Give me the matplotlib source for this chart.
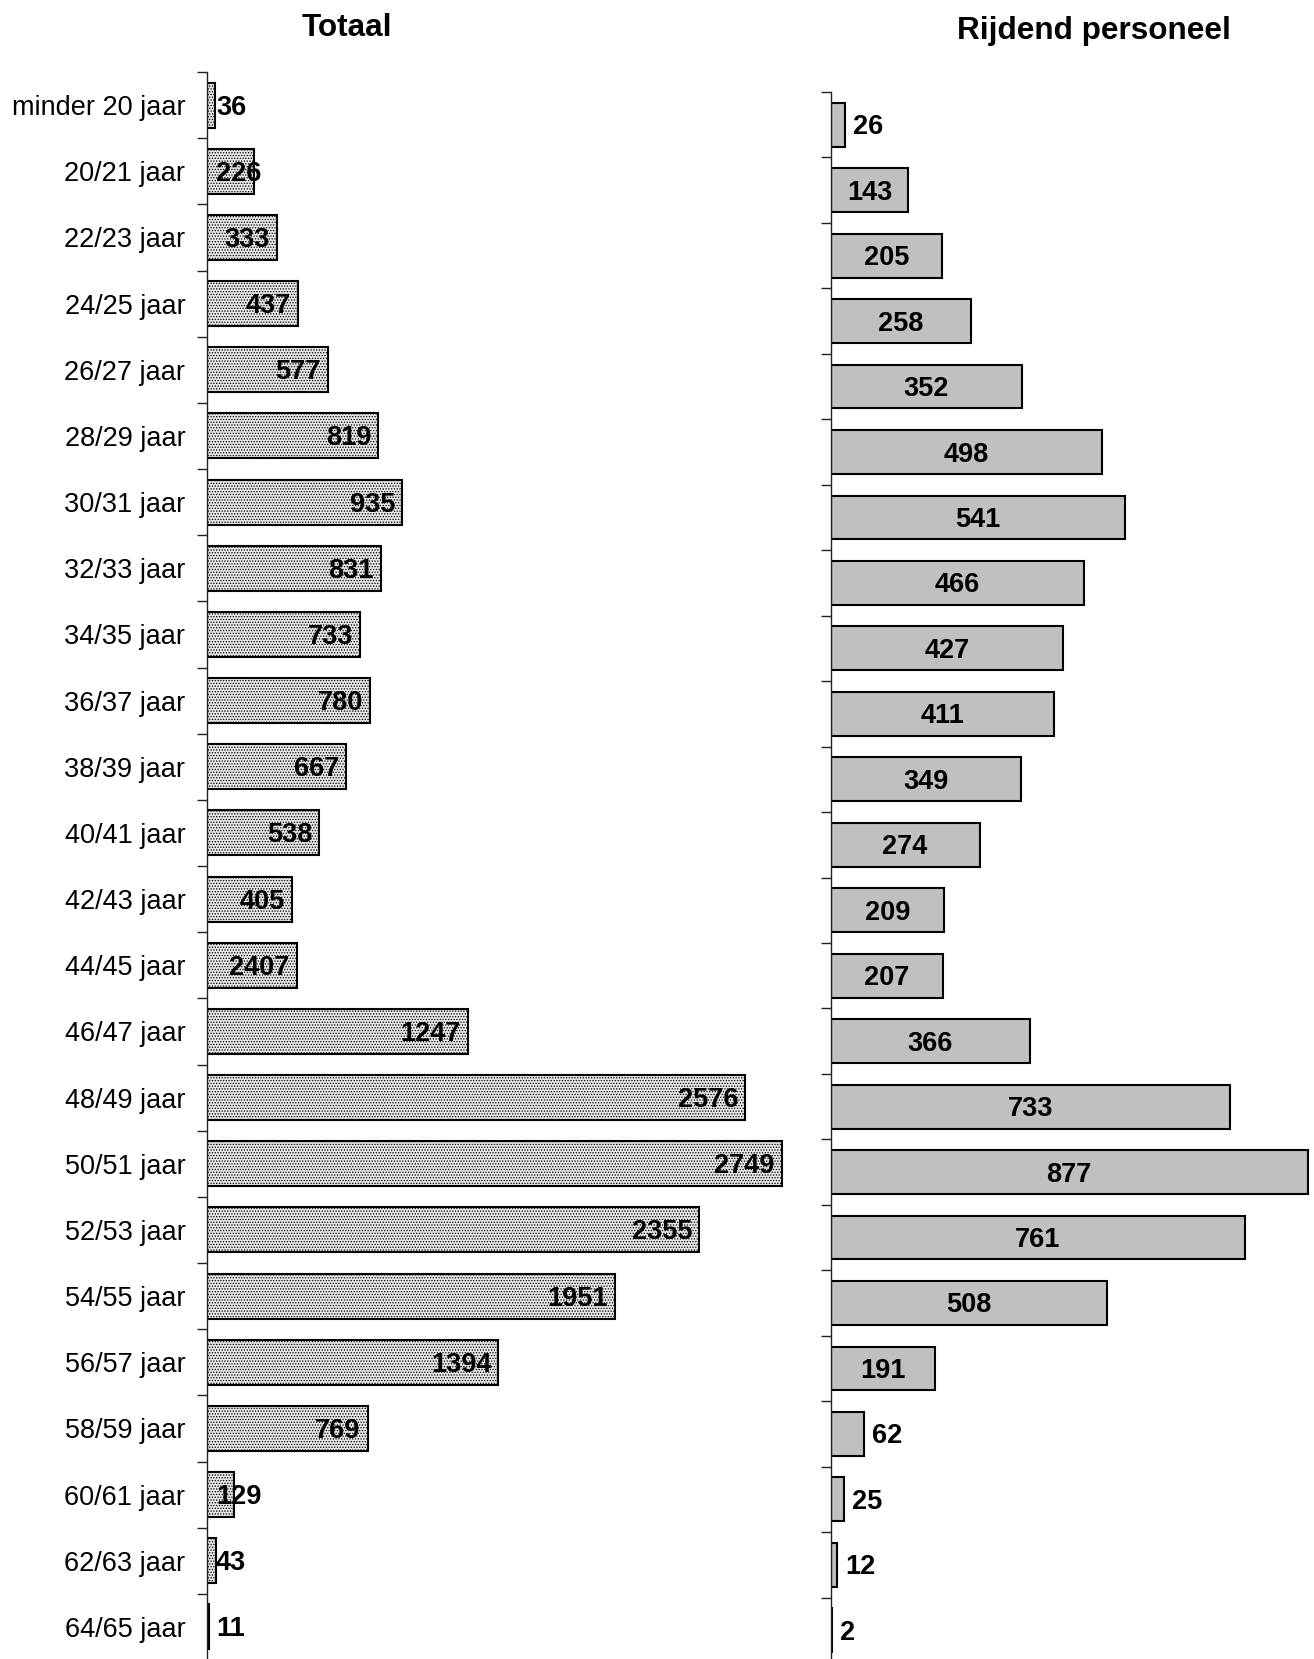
import matplotlib
matplotlib.use("Agg")
import matplotlib.pyplot as plt
import matplotlib.transforms as mtransforms
import numpy as np

plt.rcParams['font.family'] = ['Liberation Sans', 'DejaVu Sans']
plt.rcParams['hatch.color'] = '#444444'
plt.rcParams['hatch.linewidth'] = 0.6

categories = ['minder 20 jaar', '20/21 jaar', '22/23 jaar', '24/25 jaar', '26/27 jaar',
              '28/29 jaar', '30/31 jaar', '32/33 jaar', '34/35 jaar', '36/37 jaar',
              '38/39 jaar', '40/41 jaar', '42/43 jaar', '44/45 jaar', '46/47 jaar',
              '48/49 jaar', '50/51 jaar', '52/53 jaar', '54/55 jaar', '56/57 jaar',
              '58/59 jaar', '60/61 jaar', '62/63 jaar', '64/65 jaar']

# bar lengths as drawn in the original (44/45 bar is short, its label reads 2407)
totaal = [36, 226, 333, 437, 577, 819, 935, 831, 733, 780, 667, 538, 405, 430,
          1247, 2576, 2749, 2355, 1951, 1394, 769, 129, 43, 11]
totaal_labels = ['36', '226', '333', '437', '577', '819', '935', '831', '733', '780',
                 '667', '538', '405', '2407', '1247', '2576', '2749', '2355', '1951',
                 '1394', '769', '129', '43', '11']

rijdend = [26, 143, 205, 258, 352, 498, 541, 466, 427, 411, 349, 274, 209, 207,
           366, 733, 877, 761, 508, 191, 62, 25, 12, 2]

W, H = 1314, 1659
fig = plt.figure(figsize=(W / 100, H / 100), dpi=100)

def px_axes(x0, x1, ytop, ybot):
    return fig.add_axes([x0 / W, (H - ybot) / H, (x1 - x0) / W, (ybot - ytop) / H])

ax1 = px_axes(207, 207 + 2800 * 0.209, 72, 1660)
ax2 = px_axes(830.5, 830.5 + 880 * 0.5446, 92, 1663)

n = len(categories)
ypos = np.arange(n)

for ax in (ax1, ax2):
    ax.set_ylim(n - 0.5, -0.5)
    for s in ('top', 'right', 'bottom'):
        ax.spines[s].set_visible(False)
    ax.spines['left'].set_linewidth(1.0)
    ax.spines['left'].set_color('#222222')
    ax.set_xticks([])
    ax.set_yticks(np.arange(n + 1) - 0.5, minor=True)
    ax.tick_params(axis='y', which='minor', length=7, width=1.0, color='#222222')
    ax.tick_params(axis='y', which='major', length=0)

ax1.set_xlim(0, 2800)
ax2.set_xlim(0, 880)

ax1.barh(ypos, totaal, height=0.68, color='#e6e6e6', edgecolor='black',
         linewidth=1.5, hatch='......')
ax2.barh(ypos, rijdend, height=0.67, color='#c0c0c0', edgecolor='black',
         linewidth=1.5)

ax1.set_yticks(ypos)
ax1.set_yticklabels(categories, fontsize=19.5)
ax1.tick_params(axis='y', which='major', pad=15.5)
ax2.set_yticks([])

fig.text(347 / W, 1 - 28 / H, 'Totaal', ha='center', va='center',
         fontsize=22.7, fontweight='bold')
fig.text(1094 / W, 1 - 31 / H, 'Rijdend personeel', ha='center', va='center',
         fontsize=22.7, fontweight='bold')

fig.canvas.draw()
renderer = fig.canvas.get_renderer()

tr1 = mtransforms.offset_copy(ax1.transData, fig=fig, y=-2.5, units='dots')
tr2 = mtransforms.offset_copy(ax2.transData, fig=fig, y=-2.5, units='dots')

# Totaal: labels at inside end, pushed right when they don't fit
for y, v, lab in zip(ypos, totaal, totaal_labels):
    t = ax1.text(v, y, lab, ha='right', va='center', fontsize=19.5,
                 fontweight='bold', transform=tr1)
    w_px = t.get_window_extent(renderer).width
    end_px = ax1.transData.transform((v, y))[0]
    axis_px = ax1.transData.transform((0, y))[0]
    right_px = max(end_px - 7, axis_px + 9 + w_px)
    t.set_x(ax1.transData.inverted().transform((right_px, 0))[0])

# Rijdend personeel: centered labels, outside end when too narrow
for y, v in zip(ypos, rijdend):
    t = ax2.text(v / 2, y, str(v), ha='center', va='center', fontsize=19.5,
                 fontweight='bold', transform=tr2)
    w_px = t.get_window_extent(renderer).width
    end_px = ax2.transData.transform((v, y))[0]
    axis_px = ax2.transData.transform((0, y))[0]
    if w_px + 10 > end_px - axis_px:
        t.set_x(ax2.transData.inverted().transform((end_px + 8, 0))[0])
        t.set_ha('left')

fig.savefig('out.png', dpi=100)
